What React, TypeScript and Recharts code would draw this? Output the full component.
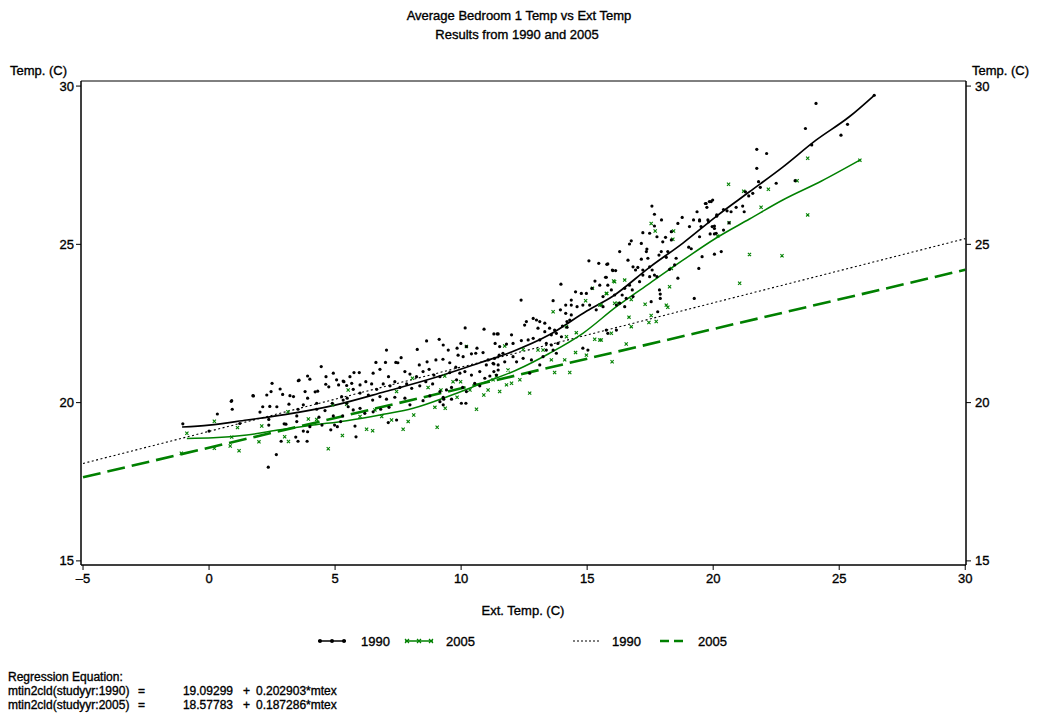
import React from 'react';
import { ComposedChart, Scatter, Line, XAxis, YAxis, ReferenceArea } from 'recharts';

const FONT = '"Liberation Sans", Arial, Helvetica, sans-serif';
const GREEN = '#008000';

const xTicks = [-5, 0, 5, 10, 15, 20, 25, 30];
const yTicks = [15, 20, 25, 30];

const points1990: [number, number][] = [
  [-1.04,19.33],[0.33,19.64],[0.88,20.04],[0.92,19.79],[1.74,20.22],[0.0,19.1],[1.22,19.34],[2.02,19.7],[2.29,20.24],[2.46,20.35],
  [2.5,20.61],[2.82,20.43],[2.13,19.87],[2.41,19.88],[2.69,19.87],[2.92,20.26],[3.21,20.22],[3.35,20.19],[3.17,19.95],[3.57,20.71],
  [3.91,20.84],[4.0,20.74],[3.81,20.35],[3.91,20.14],[3.74,19.93],[3.53,19.79],[4.21,20.34],[4.31,20.36],[4.45,21.14],[4.64,20.82],
  [4.93,20.93],[4.63,20.58],[4.75,20.5],[5.06,20.72],[5.14,20.56],[5.32,20.68],[5.46,20.54],[4.27,19.98],[4.27,19.79],[4.6,19.75],
  [4.89,19.98],[5.32,20.08],[5.46,19.98],[3.48,19.58],[3.48,19.4],[2.98,19.33],[3.05,19.32],[2.37,19.47],[2.37,19.29],[2.35,17.96],
  [2.67,18.36],[2.86,18.78],[3.44,18.91],[3.53,18.78],[3.89,18.78],[3.91,19.08],[3.74,19.1],[4.0,19.24],[4.48,19.29],[4.83,19.14],
  [4.98,19.29],[5.09,19.24],[5.22,19.4],[4.36,19.54],[4.93,19.58],[0.9,20.06],[1.76,20.21],[3.54,20.69],
  [10.16,22.36],[10.91,22.32],[11.43,22.17],[8.63,21.95],[9.13,22.0],[7.04,21.66],[8.26,21.68],[9.29,21.82],[9.49,21.66],[9.84,21.72],
  [9.99,21.87],[10.21,21.77],[10.63,21.72],[11.35,21.87],[7.62,21.42],[7.41,21.27],[6.62,21.27],[7.0,21.27],[7.49,21.26],[8.34,21.19],
  [8.65,21.29],[9.0,21.35],[9.28,21.37],[9.55,21.26],[9.88,21.5],[10.08,21.45],[10.41,21.54],[10.58,21.56],[10.87,21.58],[11.07,21.35],
  [11.3,21.22],[11.51,21.5],[5.75,20.95],[5.96,20.95],[6.51,20.93],[6.78,21.05],[7.12,20.82],[7.77,20.98],[7.97,20.9],[8.23,20.82],
  [8.49,20.98],[8.73,21.05],[8.92,20.87],[9.16,20.82],[9.55,20.95],[9.79,21.12],[9.95,20.93],[10.15,20.98],[10.41,20.87],[10.74,20.98],
  [11.0,21.19],[5.59,20.82],[5.35,20.66],[5.66,20.61],[5.72,20.42],[5.99,20.56],[6.22,20.66],[6.45,20.59],[6.65,20.42],[6.91,20.59],
  [7.18,20.53],[7.37,20.66],[7.57,20.48],[7.84,20.59],[8.04,20.45],[8.36,20.53],[8.6,20.66],[8.87,20.59],[9.16,20.35],[9.42,20.4],
  [5.26,20.19],[5.48,20.14],[5.99,20.3],[6.32,20.24],[6.49,20.08],[6.78,20.19],[7.04,20.11],[7.37,20.17],[7.77,20.14],[7.97,19.93],
  [8.49,20.06],[8.76,20.21],[9.16,20.03],[9.29,20.17],[5.52,19.87],[5.72,19.77],[5.99,19.82],[6.18,19.66],[6.51,19.71],[6.81,19.79],
  [7.14,19.85],[5.3,19.58],[5.79,19.26],[5.83,18.92],[7.11,19.37],[7.44,19.45],[9.29,19.93],[9.62,20.48],[9.82,20.72],[10.06,20.48],
  [10.21,20.35],[10.54,20.61],[10.74,20.53],[10.94,20.77],[11.14,20.84],[11.3,20.98],[11.47,21.03],[9.31,20.11],[9.62,20.11],[10.01,19.98],
  [10.19,19.98],
  [15.07,24.48],[15.46,24.4],[15.78,24.37],[16.02,24.17],[15.73,23.96],[15.31,23.84],[15.5,23.71],[15.82,23.71],[15.19,23.61],[14.97,23.45],
  [14.77,23.45],[15.63,23.35],[13.96,23.74],[12.38,23.24],[13.65,23.22],[14.37,23.24],[14.54,23.5],[14.15,23.08],[14.37,23.08],[14.6,23.03],
  [14.83,23.08],[15.1,23.08],[15.36,22.93],[13.94,22.93],[14.15,22.82],[14.37,22.77],[14.31,22.61],[14.2,22.56],[14.02,22.42],[14.2,22.38],
  [13.71,22.29],[13.51,22.35],[13.32,22.51],[13.12,22.56],[12.99,22.61],[12.86,22.66],[12.59,22.56],[12.52,22.45],[13.05,22.35],[13.32,22.24],
  [13.58,22.14],[13.78,22.19],[13.98,22.08],[13.84,21.87],[13.58,21.82],[13.38,21.87],[13.12,21.98],[12.86,22.03],[12.66,21.98],[12.39,21.96],
  [12.06,21.87],[11.8,21.85],[11.53,21.77],[11.3,22.17],[11.47,22.17],[12.0,22.14],[11.66,21.56],[11.33,21.4],[11.27,21.24],[11.47,21.19],
  [11.73,21.29],[12.06,21.45],[12.2,21.29],[12.46,21.4],[12.79,21.35],[13.12,21.19],[13.38,21.66],[13.65,21.66],[13.78,21.56],[14.83,21.72],
  [15.03,21.66],[13.25,21.45],[12.72,20.93],[11.4,20.87],
  [19.69,26.29],[19.85,26.35],[19.36,26.03],[19.22,25.77],[18.77,25.85],[19.46,25.77],[19.79,25.77],[20.14,25.93],[17.57,26.21],[17.67,25.95],
  [17.95,25.77],[18.6,25.66],[19.06,25.56],[17.67,25.58],[17.21,25.37],[17.77,25.24],[18.11,25.22],[18.34,25.14],[18.0,25.08],[16.75,25.11],
  [16.68,25.01],[16.29,24.77],[17.37,24.85],[17.35,24.77],[17.94,24.77],[18.2,24.77],[17.15,24.53],[17.41,24.56],[17.85,24.66],[18.14,24.59],
  [18.53,24.56],[19.03,24.91],[19.13,24.86],[20.12,25.35],[20.05,25.5],[15.82,24.38],[16.0,24.19],[16.13,24.17],[16.62,24.5],[16.82,24.29],
  [16.92,24.19],[17.01,24.27],[17.21,24.19],[17.48,24.29],[17.58,24.19],[17.67,24.03],[17.77,23.98],[17.48,23.98],[17.21,24.03],[17.08,23.82],
  [18.27,24.21],[18.47,24.35],[18.6,23.93],[15.76,23.96],[16.68,23.71],[16.79,23.56],[16.49,23.61],[16.39,23.4],[16.55,23.29],[16.82,23.35],
  [16.29,23.14],[16.49,23.03],[16.16,23.08],[16.09,23.4],[15.96,23.56],[15.63,23.03],[17.87,23.56],[17.9,23.43],[17.9,23.29],[17.54,23.19],
  [19.43,24.24],[19.25,23.29],[17.8,22.87],[15.76,22.29],[16.16,22.29],[15.82,22.19],[17.48,25.35],[18.34,25.4],[17.15,25.03],
  [24.08,29.45],[23.66,28.66],[25.33,28.79],[25.07,28.45],[23.91,28.14],[21.73,28.0],[22.12,27.87],[21.73,27.4],[22.5,26.93],[23.25,27.01],
  [21.8,26.98],[21.87,26.8],[21.57,26.61],[21.41,26.53],[21.28,26.66],[21.17,26.21],[20.91,26.17],[20.71,26.03],[20.41,26.1],[19.98,26.4],
  [19.92,26.35],[19.75,26.17],[19.72,26.29],[20.14,25.89],[20.55,26.06],[21.23,26.03],[20.05,25.58],[19.96,25.56],[19.82,25.71],[19.46,25.74],
  [19.52,25.56],[19.88,25.33],[20.05,25.33],[20.41,25.45],[20.63,25.68],[19.46,25.24],[20.05,24.69],[20.32,24.77],[19.56,24.61],[26.39,29.71],
];

const points2005: [number, number][] = [
  [-0.88,19.03],[0.21,19.41],[1.13,19.21],[0.9,18.91],[0.84,18.63],[0.21,18.56],[1.19,18.48],[1.98,18.76],[2.09,19.26],[3.13,19.71],
  [3.0,18.92],[3.15,18.77],[4.73,18.54],[5.29,18.96],[4.9,19.93],[5.46,19.95],[3.94,19.48],[4.27,19.47],[-1.1,18.4],
  [5.52,20.4],[5.99,19.56],[6.25,19.16],[6.49,19.11],[6.58,19.77],[6.85,19.56],[7.24,19.45],[7.44,20.35],[7.7,19.16],[7.9,19.4],
  [8.07,20.77],[8.12,19.61],[8.69,20.48],[8.96,19.85],[9.05,19.22],[9.2,20.4],[9.37,19.82],[9.35,20.84],[9.68,20.66],[9.84,20.17],
  [9.98,20.66],[10.21,21.77],[10.35,20.4],[10.61,19.79],[10.9,20.24],[11.07,20.4],[11.27,20.72],[11.4,20.84],
  [13.65,22.87],[14.94,23.22],[15.21,23.61],[15.78,23.45],[16.09,23.82],[16.22,23.14],[15.56,23.08],[14.18,22.4],[14.18,22.08],[14.57,22.21],
  [15.3,22.0],[15.56,21.98],[13.05,21.66],[13.25,21.66],[13.58,21.35],[14.11,21.35],[14.54,21.58],[14.97,21.5],[12.46,21.68],[11.73,21.79],
  [11.86,21.03],[12.33,20.72],[13.71,20.95],[14.31,20.95],[11.53,20.35],[12.72,20.3],[11.8,20.56],[12.0,20.61],
  [17.54,25.66],[17.7,25.42],[18.43,25.42],[18.4,25.16],[18.34,24.24],[16.05,23.84],[16.49,23.87],[16.75,23.26],[15.76,23.45],[15.5,23.08],
  [16.09,23.14],[17.3,23.11],[18.14,23.08],[18.2,23.01],[18.27,23.66],[17.54,22.75],[17.74,22.56],[17.45,22.53],[16.66,22.7],[16.75,22.4],
  [15.96,22.19],[16.55,21.85],[15.5,21.98],[20.18,25.26],[15.99,21.29],
  [20.61,26.9],[21.21,26.68],[22.19,26.74],[23.33,27.01],[23.75,27.72],[21.9,26.17],[23.75,25.93],[20.63,25.68],[21.44,24.68],[22.73,24.64],
  [21.05,23.77],[25.82,27.66],
];

const loess1990: [number, number][] = [
  [-1.07,19.23],[0,19.29],[1.5,19.45],[3,19.62],[5,19.92],[7,20.35],[9,20.8],[10.75,21.26],[12,21.6],[13.5,22.14],
  [15,22.9],[16,23.35],[17.5,24.29],[18.8,25.04],[20.1,25.87],[21.44,26.66],[22.76,27.44],[24.08,28.29],[25.4,29.03],[26.39,29.71],
];

const loess2005: [number, number][] = [
  [-0.88,18.87],[0.17,18.89],[1.5,18.98],[2.82,19.14],[4.14,19.29],[5.46,19.43],[6.78,19.61],[8.1,19.82],[9.5,20.2],[10.8,20.6],
  [12.2,21.03],[13.51,21.56],[14.83,22.19],[16.16,23.03],[17.48,23.77],[18.8,24.5],[20.12,25.2],[21.44,25.8],[22.76,26.4],[24.3,27.0],[25.82,27.66],
];

const reg1990: [number, number][] = [[-5, 18.078], [30, 25.180]];
const reg2005: [number, number][] = [[-5, 17.641], [30, 24.196]];

const toObj = (arr: [number, number][]) => arr.map(([x, y]) => ({ x, y }));

const XDOM: [number, number] = [-5.08, 30.03];
const YDOM: [number, number] = [14.87, 30.16];

const DotShape = (props: any) => {
  const { cx, cy } = props;
  if (cx == null || cy == null) return null;
  return <circle cx={cx} cy={cy} r={1.6} fill="#000" />;
};

const CrossShape = (props: any) => {
  const { cx, cy } = props;
  if (cx == null || cy == null) return null;
  const s = 1.6;
  return (
    <path
      d={`M${cx - s},${cy - s}L${cx + s},${cy + s}M${cx - s},${cy + s}L${cx + s},${cy - s}`}
      stroke={GREEN}
      strokeWidth={1.1}
      fill="none"
    />
  );
};

const tickStyle = { fontSize: 13, fill: '#000', fontFamily: FONT, stroke: '#000', strokeWidth: 0.35 };
const fmtX = (v: number) => (v < 0 ? '\u2013' + Math.abs(v) : String(v));

const txt = { fill: '#000', stroke: '#000', strokeWidth: 0.35 };

export default function App() {
  return (
    <div style={{ position: 'absolute', left: 0, top: 0, width: 1039, height: 715, background: '#fff' }}>
      <ComposedChart
        width={1039}
        height={715}
        margin={{ top: 81, right: 33, bottom: 120, left: 41 }}
      >
        <XAxis
          type="number"
          dataKey="x"
          domain={XDOM}
          ticks={xTicks}
          allowDataOverflow
          tick={tickStyle}
          tickFormatter={fmtX}
          tickSize={5}
          tickMargin={4}
          height={30}
          axisLine={{ stroke: '#000' }}
          tickLine={{ stroke: '#000' }}
          interval={0}
        />
        <YAxis
          yAxisId="left"
          orientation="left"
          type="number"
          domain={YDOM}
          ticks={yTicks}
          allowDataOverflow
          tick={tickStyle}
          tickSize={5}
          tickMargin={2}
          width={40}
          axisLine={{ stroke: '#000' }}
          tickLine={{ stroke: '#000' }}
          interval={0}
        />
        <YAxis
          yAxisId="right"
          orientation="right"
          type="number"
          domain={YDOM}
          ticks={yTicks}
          allowDataOverflow
          tick={tickStyle}
          tickSize={5}
          tickMargin={4}
          width={40}
          axisLine={{ stroke: '#000' }}
          tickLine={{ stroke: '#000' }}
          interval={0}
        />
        <ReferenceArea
          yAxisId="left"
          x1={XDOM[0]}
          x2={XDOM[1]}
          y1={YDOM[0]}
          y2={YDOM[1]}
          fill="none"
          fillOpacity={0}
          stroke="#000"
          strokeWidth={1}
          ifOverflow="visible"
        />
        <Scatter yAxisId="left" data={toObj(points2005)} dataKey="y" shape={CrossShape} isAnimationActive={false} />
        <Scatter yAxisId="left" data={toObj(points1990)} dataKey="y" shape={DotShape} isAnimationActive={false} />
        <Line yAxisId="left" data={toObj(reg1990)} dataKey="y" type="linear" stroke="#000" strokeWidth={1.1} strokeDasharray="2 2.5" dot={false} isAnimationActive={false} />
        <Line yAxisId="left" data={toObj(reg2005)} dataKey="y" type="linear" stroke={GREEN} strokeWidth={2.6} strokeDasharray="18 7" dot={false} isAnimationActive={false} />
        <Line yAxisId="left" data={toObj(loess2005)} dataKey="y" type="monotone" stroke={GREEN} strokeWidth={1.5} dot={false} isAnimationActive={false} />
        <Line yAxisId="left" data={toObj(loess1990)} dataKey="y" type="monotone" stroke="#000" strokeWidth={1.7} dot={false} isAnimationActive={false} />
      </ComposedChart>
      <svg
        width={1039}
        height={715}
        style={{ position: 'absolute', left: 0, top: 0, pointerEvents: 'none' }}
        fontFamily={FONT}
      >
        <g {...txt}>
          <text x={519} y={20} fontSize={13} textAnchor="middle">Average Bedroom 1 Temp vs Ext Temp</text>
          <text x={517} y={39} fontSize={13} textAnchor="middle">Results from 1990 and 2005</text>
          <text x={10} y={75} fontSize={13}>Temp. (C)</text>
          <text x={972} y={75} fontSize={13}>Temp. (C)</text>
          <text x={523} y={615} fontSize={13} textAnchor="middle">Ext. Temp. (C)</text>
          <text x={361} y={646} fontSize={13}>1990</text>
          <text x={446} y={646} fontSize={13}>2005</text>
          <text x={612} y={646} fontSize={13}>1990</text>
          <text x={698} y={646} fontSize={13}>2005</text>

          <text x={8} y={681} fontSize={12}>Regression Equation:</text>
          <text x={8} y={695} fontSize={12}>mtin2cld(studyyr:1990)</text>
          <text x={138} y={695} fontSize={12}>=</text>
          <text x={233} y={695} fontSize={12} textAnchor="end">19.09299</text>
          <text x={243} y={695} fontSize={12}>+</text>
          <text x={256} y={695} fontSize={12}>0.202903*mtex</text>
          <text x={8} y={709} fontSize={12}>mtin2cld(studyyr:2005)</text>
          <text x={138} y={709} fontSize={12}>=</text>
          <text x={233} y={709} fontSize={12} textAnchor="end">18.57783</text>
          <text x={243} y={709} fontSize={12}>+</text>
          <text x={256} y={709} fontSize={12}>0.187286*mtex</text>
        </g>

        <line x1={318} y1={641} x2={346} y2={641} stroke="#000" strokeWidth={1.5} />
        <circle cx={320} cy={641} r={2} fill="#000" />
        <circle cx={332} cy={641} r={2} fill="#000" />
        <circle cx={344} cy={641} r={2} fill="#000" />
        <line x1={405} y1={641} x2={433} y2={641} stroke={GREEN} strokeWidth={1.5} />
        {[407, 419, 431].map((cx) => (
          <path key={cx} d={`M${cx - 2},${641 - 2}L${cx + 2},${641 + 2}M${cx - 2},${641 + 2}L${cx + 2},${641 - 2}`} stroke={GREEN} strokeWidth={1.2} />
        ))}
        <line x1={573} y1={641} x2={600} y2={641} stroke="#000" strokeWidth={1.1} strokeDasharray="2 2" />
        <line x1={660} y1={641} x2={686} y2={641} stroke={GREEN} strokeWidth={2.6} strokeDasharray="9 5" />
      </svg>
    </div>
  );
}
